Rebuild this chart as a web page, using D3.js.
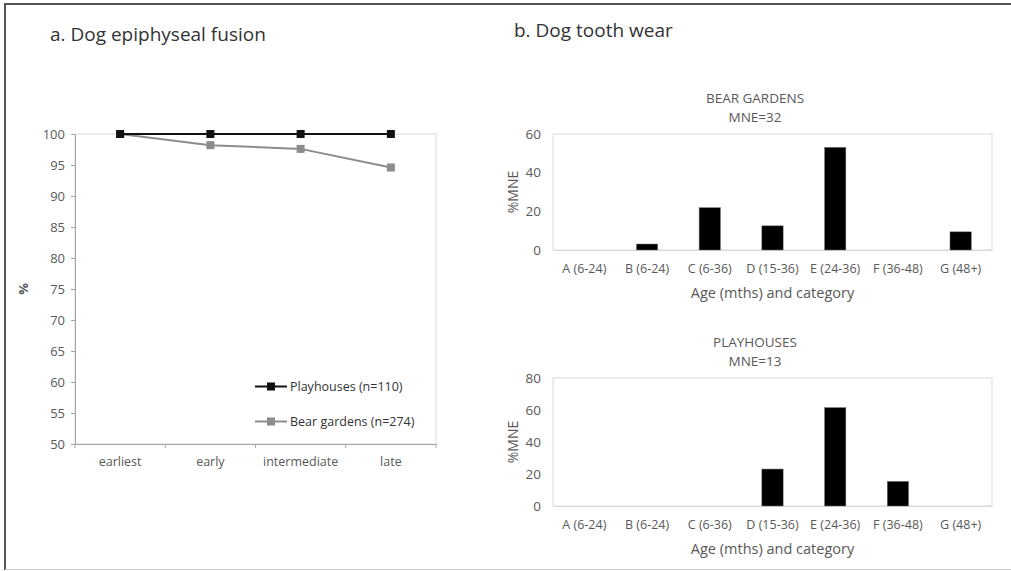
<!DOCTYPE html>
<html>
<head>
<meta charset="utf-8">
<script src="https://cdn.jsdelivr.net/npm/d3@7"></script>
<style>
  body { margin: 0; background: #fff; }
  svg { display: block; }
  svg text { font-family: "Open Sans", "Liberation Sans", sans-serif; }
</style>
</head>
<body>
<div class="canvas"></div>
<script>
// fusion chart (a)
const stages = ['earliest', 'early', 'intermediate', 'late'];
const playhousesFusion = [100, 100, 100, 100];
const bearGardensFusion = [100, 98.2, 97.6, 94.6];
const fusionTicks = [50, 55, 60, 65, 70, 75, 80, 85, 90, 95, 100];

// tooth wear charts (b)
const wearCats = ['A (6-24)', 'B (6-24)', 'C (6-36)', 'D (15-36)', 'E (24-36)', 'F (36-48)', 'G (48+)'];
const bearGardensWear = [0, 3.1, 21.9, 12.5, 53.1, 0, 9.4];
const playhousesWear = [0, 0, 0, 23.1, 61.5, 15.4, 0];
const bearTicks = [0, 20, 40, 60];
const playTicks = [0, 20, 40, 60, 80];

const W = 1011, H = 571;
const textCol = '#595959';

const svg = d3.select('.canvas').append('svg')
  .attr('width', W).attr('height', H);

// outer frame
svg.append('line').attr('x1', 4).attr('x2', W).attr('y1', 4).attr('y2', 4)
  .attr('stroke', '#555').attr('stroke-width', 2);
svg.append('line').attr('x1', 5).attr('x2', 5).attr('y1', 3).attr('y2', 570)
  .attr('stroke', '#555').attr('stroke-width', 2);
svg.append('line').attr('x1', 5).attr('x2', W).attr('y1', 569.5).attr('y2', 569.5)
  .attr('stroke', '#ccc').attr('stroke-width', 1);

svg.append('text').attr('x', 50).attr('y', 41).attr('font-size', 19).attr('fill', '#333')
  .text('a. Dog epiphyseal fusion');
svg.append('text').attr('x', 514).attr('y', 37).attr('font-size', 19).attr('fill', '#333')
  .text('b. Dog tooth wear');

// ---------- chart a ----------
const a = {left: 75, right: 436, top: 134, bottom: 444};
const xA = d3.scaleBand().domain(stages).range([a.left, a.right]);
const yA = d3.scaleLinear().domain([50, 100]).range([a.bottom, a.top]);

const gA = svg.append('g');
// plot border (light)
gA.append('rect').attr('x', a.left).attr('y', a.top)
  .attr('width', a.right - a.left).attr('height', a.bottom - a.top)
  .attr('fill', 'none').attr('stroke', '#d9d9d9');

const yAxisA = gA.append('g').attr('transform', `translate(${a.left},0)`)
  .call(d3.axisLeft(yA).tickValues(fusionTicks).tickSize(4).tickPadding(6));
yAxisA.select('.domain').attr('stroke', '#a6a6a6');
yAxisA.selectAll('.tick line').attr('stroke', '#a6a6a6');
yAxisA.selectAll('text').attr('font-size', 13).attr('fill', textCol);

const xAxisA = gA.append('g').attr('transform', `translate(0,${a.bottom})`)
  .call(d3.axisBottom(xA).tickSize(0).tickPadding(13));
xAxisA.select('.domain').attr('stroke', '#a6a6a6');
xAxisA.selectAll('text').attr('font-size', 12.5).attr('fill', textCol);
// category boundary ticks
gA.selectAll('.bt').data(d3.range(stages.length + 1)).enter().append('line')
  .attr('x1', i => a.left + i * xA.step()).attr('x2', i => a.left + i * xA.step())
  .attr('y1', a.bottom).attr('y2', a.bottom + 4).attr('stroke', '#a6a6a6');

gA.append('text').attr('transform', `translate(28,${(a.top + a.bottom) / 2}) rotate(-90)`)
  .attr('text-anchor', 'middle').attr('font-size', 13).attr('font-weight', 'bold').attr('fill', textCol)
  .text('%');

const series = [
  {name: 'Bear gardens (n=274)', values: bearGardensFusion, color: '#8c8c8c', legendY: 421.5},
  {name: 'Playhouses (n=110)', values: playhousesFusion, color: '#111', legendY: 386.5}
];
const lineA = d3.line().x((d, i) => xA(stages[i]) + xA.bandwidth() / 2).y(d => yA(d));
series.forEach(s => {
  gA.append('path').datum(s.values).attr('d', lineA)
    .attr('fill', 'none').attr('stroke', s.color).attr('stroke-width', 2);
  gA.selectAll(null).data(s.values).enter().append('rect')
    .attr('x', (d, i) => xA(stages[i]) + xA.bandwidth() / 2 - 4)
    .attr('y', d => yA(d) - 4)
    .attr('width', 8).attr('height', 8).attr('fill', s.color);
  // legend
  gA.append('line').attr('x1', 255).attr('x2', 287).attr('y1', s.legendY).attr('y2', s.legendY)
    .attr('stroke', s.color).attr('stroke-width', 2);
  gA.append('rect').attr('x', 267).attr('y', s.legendY - 4).attr('width', 8).attr('height', 8)
    .attr('fill', s.color);
  gA.append('text').attr('x', 290).attr('y', s.legendY + 4.5).attr('font-size', 12.5)
    .attr('fill', '#333').text(s.name);
});

// ---------- chart b ----------
function barChart(box, values, ticks, title1, title2) {
  const x = d3.scaleBand().domain(wearCats).range([box.left, box.right]).paddingInner(0.66).paddingOuter(0.33);
  const y = d3.scaleLinear().domain([0, d3.max(ticks)]).range([box.bottom, box.top]);
  const g = svg.append('g');
  g.append('rect').attr('x', box.left).attr('y', box.top)
    .attr('width', box.right - box.left).attr('height', box.bottom - box.top)
    .attr('fill', 'none').attr('stroke', '#d9d9d9');

  const ya = g.append('g').attr('transform', `translate(${box.left},0)`)
    .call(d3.axisLeft(y).tickValues(ticks).tickSize(0).tickPadding(12));
  ya.select('.domain').remove();
  ya.selectAll('text').attr('font-size', 13.5).attr('fill', textCol);

  const xa = g.append('g').attr('transform', `translate(0,${box.bottom})`)
    .call(d3.axisBottom(x).tickSize(0).tickPadding(14));
  xa.select('.domain').attr('stroke', '#d9d9d9');
  xa.selectAll('text').attr('font-size', 12.5).attr('fill', textCol);

  g.selectAll('.bar').data(values).enter().append('rect')
    .attr('x', (d, i) => x(wearCats[i]))
    .attr('y', d => y(d))
    .attr('width', x.bandwidth())
    .attr('height', d => box.bottom - y(d))
    .attr('fill', '#000').attr('stroke', d => d > 0 ? '#777' : 'none').attr('stroke-width', 0.5);

  const cx = 755;
  g.append('text').attr('x', cx).attr('y', box.top - 31).attr('text-anchor', 'middle')
    .attr('font-size', 13.5).attr('fill', textCol).text(title1);
  g.append('text').attr('x', cx).attr('y', box.top - 12).attr('text-anchor', 'middle')
    .attr('font-size', 13.5).attr('fill', textCol).text(title2);
  g.append('text').attr('x', (box.left + box.right) / 2).attr('y', box.bottom + 48)
    .attr('text-anchor', 'middle').attr('font-size', 14.5).attr('fill', textCol)
    .text('Age (mths) and category');
  g.append('text').attr('transform', `translate(518,${(box.top + box.bottom) / 2}) rotate(-90)`)
    .attr('text-anchor', 'middle').attr('font-size', 14).attr('fill', textCol).text('%MNE');
}

barChart({left: 553, right: 992, top: 134, bottom: 250}, bearGardensWear, bearTicks, 'BEAR GARDENS', 'MNE=32');
barChart({left: 553, right: 992, top: 378, bottom: 506}, playhousesWear, playTicks, 'PLAYHOUSES', 'MNE=13');
</script>
</body>
</html>
